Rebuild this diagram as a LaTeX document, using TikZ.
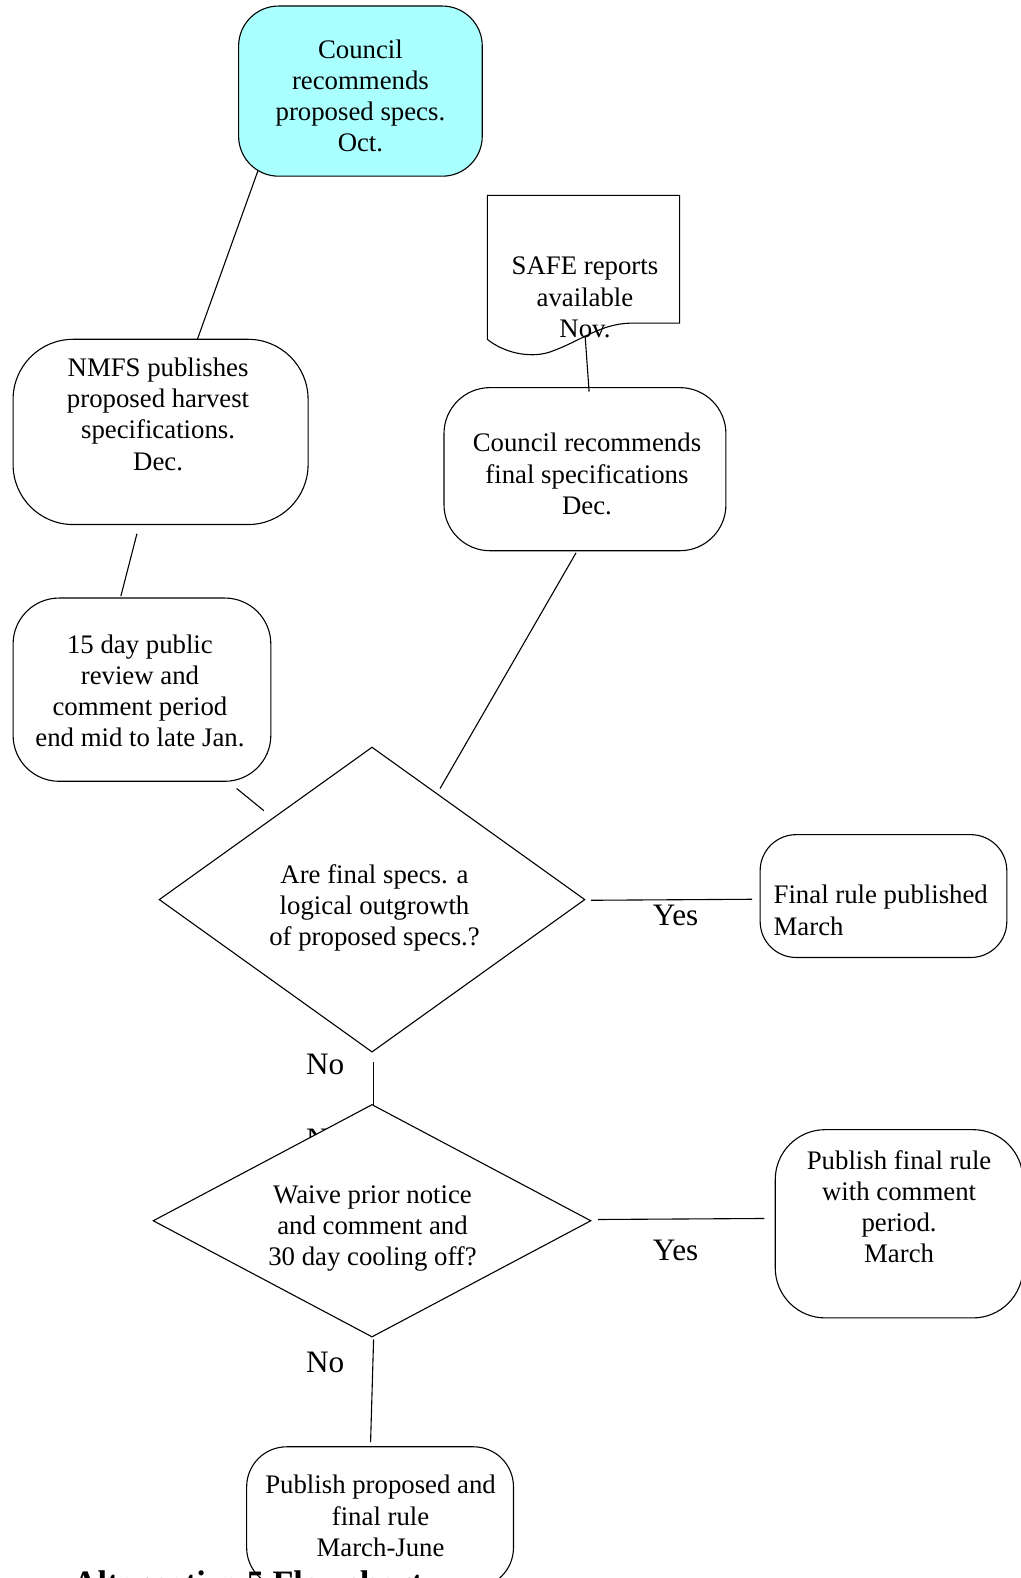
\documentclass[tikz,border=0pt]{standalone}
\usepackage{fontspec}
\setmainfont{Liberation Serif}
\usetikzlibrary{shapes.geometric}
\definecolor{cyanfill}{RGB}{170,255,255}
\begin{document}
\begin{tikzpicture}[x=0.5pt,y=-0.5pt,
  box/.style={draw, line width=0.55pt, inner sep=0pt},
  txt/.style={font=\fontsize{13.3}{15.5}\selectfont, align=center, inner sep=0pt, anchor=north},
  lbl/.style={font=\fontsize{15.5}{18}\selectfont, inner sep=0pt},
  conn/.style={line width=0.55pt},
  dia/.style={diamond, draw, fill=white, line width=0.55pt, inner sep=0pt}]
\useasboundingbox (0,0) rectangle (1021,1578);
\clip (0,0) rectangle (1021,1578);
\begin{scope}[scale=1.0068, transform shape]
% boxes
\node[box, fill=cyanfill, minimum width=121pt, minimum height=84.5pt, rounded corners=20pt] (A) at (358,90.5) {};
\node[txt] (At) at (358,39) {Council\\recommends\\proposed specs.\\Oct.};

\node[box, minimum width=146.5pt, minimum height=92pt, rounded corners=30pt] (B) at (159.5,429) {};
\node[txt] (Bt) at (157,355) {NMFS publishes\\proposed harvest\\specifications.\\Dec.};

\node[box, minimum width=128pt, minimum height=91pt, rounded corners=23pt] (C) at (141,685) {};
\node[txt] (Ct) at (139,630) {15 day public\\review and\\comment period\\end mid to late Jan.};

% SAFE document
\draw[line width=0.55pt] (484,337) -- (484,194) -- (675,194) -- (675,321) -- (625,321)
  .. controls (595,322) and (575,340) .. (545,350)
  .. controls (525,356) and (500,350) .. (484,337);
\node[txt] (St) at (581,255) {SAFE reports\\available\\Nov.};

\node[box, minimum width=140pt, minimum height=81pt, rounded corners=23pt] (E) at (581,466) {};
\node[txt] (Et) at (583,430) {Council recommends\\final specifications\\Dec.};

\node[box, minimum width=122.5pt, minimum height=61pt, rounded corners=18pt] (F) at (877.5,890) {};
\node[txt, anchor=north west, align=left] (Ft) at (768,879) {Final rule published\\March};

\node[box, minimum width=123pt, minimum height=93.5pt, rounded corners=25pt] (F2) at (893,1215.5) {};
\node[txt] (F2t) at (893,1142) {Publish final rule\\with comment\\period.\\March};

\node[box, minimum width=132.5pt, minimum height=70pt, rounded corners=20pt] (G) at (377.5,1507) {};
\node[txt] (Gt) at (378,1465) {Publish proposed and\\final rule\\March-June};

% connectors
\coordinate (ab1) at (196,337); \coordinate (ab2) at (256,170);
\draw[conn] (ab1) -- (ab2);
\coordinate (bc1) at (136,530); \coordinate (bc2) at (120,592);
\draw[conn] (bc1) -- (bc2);
\coordinate (cd1) at (235,783); \coordinate (cd2) at (262,805);
\draw[conn] (cd1) -- (cd2);
\coordinate (de1) at (437,783); \coordinate (de2) at (572,549);
\draw[conn] (de1) -- (de2);
\coordinate (se1) at (581,333); \coordinate (se2) at (585,389);
\draw[conn] (se1) -- (se2);
\coordinate (df1) at (587,894); \coordinate (df2) at (747,893);
\draw[conn] (df1) -- (df2);
\coordinate (dd1) at (371,1055); \coordinate (dd2) at (371,1097);
\draw[conn] (dd1) -- (dd2);
\coordinate (dg1) at (594,1211); \coordinate (dg2) at (759,1210);
\draw[conn] (dg1) -- (dg2);
\coordinate (dh1) at (371,1330); \coordinate (dh2) at (368,1432);
\draw[conn] (dh1) -- (dh2);

% diamonds
\node[dia, minimum width=211.5pt, minimum height=151.5pt] (D1) at (369.5,893.5) {};
\node[txt] (D1t) at (372,858) {Are final specs. a\\logical outgrowth\\of proposed specs.?};

\node[lbl] (no0) at (323,1132) {No};
\node[dia, minimum width=217.5pt, minimum height=115.5pt] (D2) at (369.5,1212.5) {};
\node[txt] (D2t) at (370,1177) {Waive prior notice\\and comment and\\30 day cooling off?};

% labels
\node[lbl] (yes1) at (671,909) {Yes};
\node[lbl] (no1) at (323,1057) {No};
\node[lbl] (yes2) at (671,1242) {Yes};
\node[lbl] (no2) at (323,1353) {No};

\node[font=\fontsize{17}{20}\selectfont\bfseries, anchor=base west, inner sep=0pt] (title) at (72,1584) {Alternative 5 Flowchart};
\end{scope}
\end{tikzpicture}
\end{document}
